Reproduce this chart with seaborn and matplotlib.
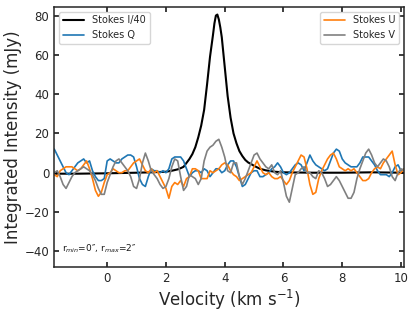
import numpy as np
import matplotlib
matplotlib.use("Agg")
import matplotlib.pyplot as plt
import seaborn as sns

sns.set_theme(style="ticks")
plt.rcParams.update({
    "xtick.direction": "in", "ytick.direction": "in",
    "xtick.top": True, "ytick.right": True,
    "xtick.major.size": 3.5, "ytick.major.size": 3.5,
    "axes.edgecolor": "0.15", "axes.linewidth": 1.1,
    "font.family": ["DejaVu Sans"],
})

# channel velocities (km/s) for the polarisation spectra
vel = np.round(np.arange(-1.8, 10.15, 0.1), 2)

stokes_q = [12, 9, 6, 3, 0, -1, 1, 3, 5, 6,
            7, 5, 6, 1, -2, -4, -4, -3, 6, 7,
            6, 5, 5, 7, 8, 9, 9, 8, 3, -3,
            -6, -7, -2, 2, 1, 1, 0, 1, 0, 2,
            7, 8, 8, 8, 6, 2, -2, 0, 1, 1,
            0, 2, 1, -2, 0, 2, 2, 0, 1, 4,
            6, 6, 3, -2, -7, -6, -3, 0, 1, 1,
            -2, -2, -1, 0, 2, 3, 5, 3, 0, -1,
            0, 2, 4, 5, 4, 1, 5, 9, 6, 4,
            3, 2, 1, 2, 6, 10, 12, 11, 7, 5,
            4, 3, 3, 3, 5, 8, 8, 8, 6, 4,
            1, -1, -1, -1, -2, 0, 3, 4, 1, 2]

stokes_u = [-1, -2, 1, 2, 3, 3, 3, 2, 1, 2,
            4, 6, 2, -3, -9, -12, -10, -5, -1, 0,
            2, 1, 0, 0, 1, 1, 3, 5, 6, 7,
            4, 1, 0, 2, 0, 1, -2, -5, -8, -13,
            -7, -5, -6, -4, -7, -3, -2, 2, 2, 1,
            -3, -3, -3, 1, 0, 1, 2, 4, 5, 4,
            1, -1, -2, -4, -3, -2, -1, 0, 3, 6,
            3, 0, -1, 0, -2, -3, -3, -2, -4, -6,
            -4, 0, 3, 6, 9, 8, 2, -6, -11, -10,
            -3, 1, 4, 7, 9, 10, 7, 3, 2, 1,
            2, 1, 2, 0, -2, -4, -4, -3, 0, 2,
            3, 2, 5, 7, 9, 11, 4, -1, 0, 2]

stokes_v = [0, 1, -2, -6, -8, -5, -2, 0, 1, 2,
            3, 2, 1, -1, -4, -8, -11, -11, -5, -1,
            3, 6, 7, 5, 3, 1, -2, -7, -8, -3,
            5, 10, 6, 1, -1, -3, -6, -8, -7, -3,
            3, 7, 6, -2, -9, -7, -1, -2, -3, -6,
            -3, 6, 11, 13, 14, 16, 17, 13, 8, 1,
            0, 5, 5, -2, -6, -3, 1, 5, 9, 10,
            7, 5, 3, 2, 4, 0, -1, 1, -5, -12,
            -15, -8, -1, 0, 2, 3, 0, 0, -2, -3,
            1, 0, -3, -7, -6, -4, -2, -4, -7, -10,
            -13, -13, -10, -3, 2, 6, 10, 12, 9, 5,
            3, 5, 7, 6, 3, -2, -4, 0, 2, 1]

# Stokes I (scaled by 1/40), sampled more finely around the line
vel_i = [-1.8, -1.0, 0.0, 1.0, 1.5, 2.0, 2.2, 2.4, 2.5, 2.6, 2.7, 2.8, 2.9,
         3.0, 3.1, 3.2, 3.3, 3.4, 3.5, 3.6, 3.65, 3.7, 3.75, 3.8, 3.85, 3.9,
         4.0, 4.1, 4.2, 4.3, 4.4, 4.5, 4.6, 4.7, 4.8, 4.9, 5.0, 5.2, 5.4,
         5.7, 6.0, 7.0, 8.0, 9.0, 10.1]
stokes_i40 = [-0.5, -0.5, -0.3, 0.0, 0.2, 0.5, 1.0, 1.7, 2.3, 3.0, 5.0, 7.0, 9.5,
              13, 18, 24, 32, 45, 59, 70, 76, 80, 80.5, 78, 74, 69,
              54, 39, 28, 20, 15, 11, 8.5, 6.5, 5.2, 4.4, 3.5, 2.0, 1.2,
              0.5, 0.2, 0.0, 0.0, 0.2, 0.0]

fig, ax = plt.subplots(figsize=(4.16, 3.12), dpi=100)
fig.subplots_adjust(left=0.1305, right=0.971, bottom=0.1442, top=0.9785)

sns.lineplot(x=vel_i, y=stokes_i40, color="black", lw=1.5, ax=ax)
sns.lineplot(x=vel, y=stokes_q, color="#1f77b4", lw=1.2, ax=ax)
sns.lineplot(x=vel, y=stokes_u, color="#ff7f0e", lw=1.2, ax=ax)
sns.lineplot(x=vel, y=stokes_v, color="#808080", lw=1.2, ax=ax)
lines = ax.get_lines()

leg1 = ax.legend([lines[0], lines[1]], ["Stokes I/40", "Stokes Q"],
                 loc="upper left", fontsize=7, handlelength=2.2)
ax.add_artist(leg1)
ax.legend([lines[2], lines[3]], ["Stokes U", "Stokes V"],
          loc="upper right", fontsize=7, handlelength=2.2)

ax.text(0.022, 0.058, "r$_{min}$=0\u2033, r$_{max}$=2\u2033",
        transform=ax.transAxes, fontsize=6.5, color="0.1")

ax.set_xlim(-1.8, 10.1)
ax.set_ylim(-48, 84.5)
ax.set_xticks([0, 2, 4, 6, 8, 10])
ax.set_yticks([-40, -20, 0, 20, 40, 60, 80])
ax.tick_params(labelsize=8.5)
ax.set_xlabel("Velocity (km s$^{-1}$)", fontsize=12, labelpad=2)
ax.set_ylabel("Integrated Intensity (mJy)", fontsize=12, labelpad=2)

fig.savefig("out.png", dpi=100)
